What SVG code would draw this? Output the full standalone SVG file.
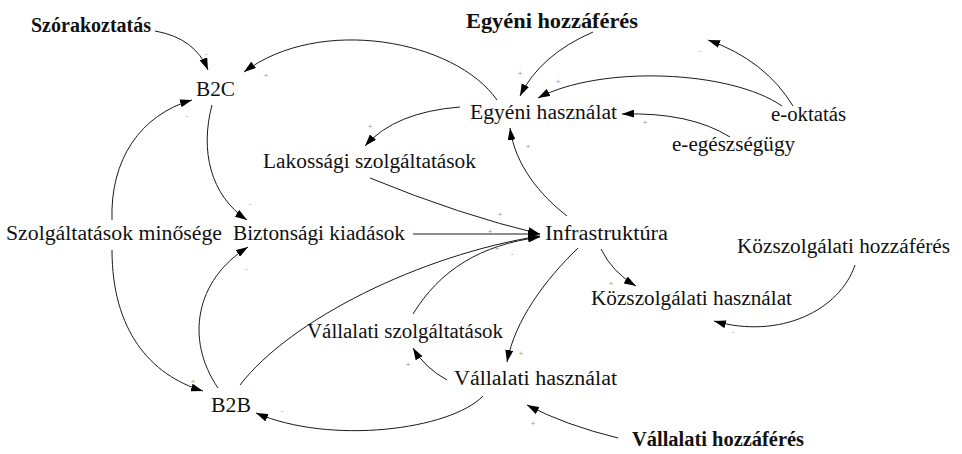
<svg xmlns="http://www.w3.org/2000/svg" width="962" height="454" viewBox="0 0 962 454">
<defs>
<marker id="ah" viewBox="0 0 12 8" refX="12" refY="4" markerWidth="12" markerHeight="8" markerUnits="userSpaceOnUse" orient="auto">
<path d="M0,0 L12,4 L0,8 Z" fill="#000"/>
</marker>
</defs>
<style>
text.t{font-family:'Liberation Serif','Times New Roman',serif;font-size:20px;fill:#111}
text.b{font-weight:bold}
.c{fill:none;stroke:#1a1a1a;stroke-width:1;marker-end:url(#ah)}
text.s{font-family:'Liberation Sans',Arial,sans-serif;font-size:8px;fill:#999;text-anchor:middle}
</style>
<rect width="962" height="454" fill="#fff"/>
<g id="connectors">
<path class="c" d="M155,31 Q195,38 208,70"/>
<path class="c" d="M497,100 C455,40 320,15 244,72"/>
<path class="c" d="M112,220 C110,160 140,115 192,100"/>
<path class="c" d="M112,250 C112,330 150,375 203,391"/>
<path class="c" d="M212,105 C200,150 210,195 247,220"/>
<path class="c" d="M218,388 C185,340 195,280 248,247"/>
<path class="c" d="M413,234 L540,234"/>
<path class="c" d="M370,178 Q460,215 540,234"/>
<path class="c" d="M240,385 C290,320 420,255 540,236"/>
<path class="c" d="M413,314 C440,270 480,245 540,237"/>
<path class="c" d="M567,216 C540,195 515,165 510,128"/>
<path class="c" d="M460,107 Q395,112 365,146"/>
<path class="c" d="M593,32 Q540,55 520,96"/>
<path class="c" d="M782,106 C730,70 600,65 538,98"/>
<path class="c" d="M793,106 Q765,60 708,40"/>
<path class="c" d="M730,137 Q690,112 622,114"/>
<path class="c" d="M601,249 Q612,272 636,286"/>
<path class="c" d="M855,265 C840,310 780,340 714,321"/>
<path class="c" d="M578,248 C545,280 515,320 507,362"/>
<path class="c" d="M447,380 Q425,368 413,348"/>
<path class="c" d="M483,396 C450,430 330,445 256,413"/>
<path class="c" d="M618,438 Q565,425 527,405"/>
</g>
<g id="signs" font-family="Liberation Sans, Arial, sans-serif">
<text class="s" x="206" y="56">-</text>
<text class="s" x="266" y="78">+</text>
<text class="s" x="187" y="118">-</text>
<text class="s" x="193" y="384">+</text>
<text class="s" x="250" y="206">-</text>
<text class="s" x="246" y="271">-</text>
<text class="s" x="490" y="234">+</text>
<text class="s" x="500" y="217">+</text>
<text class="s" x="497" y="251">+</text>
<text class="s" x="512" y="256">-</text>
<text class="s" x="528" y="149">+</text>
<text class="s" x="370" y="129">+</text>
<text class="s" x="520" y="76">+</text>
<text class="s" x="558" y="84">+</text>
<text class="s" x="700" y="53">-</text>
<text class="s" x="645" y="125">+</text>
<text class="s" x="611" y="286">+</text>
<text class="s" x="733" y="334">-</text>
<text class="s" x="521" y="356">+</text>
<text class="s" x="408" y="367">+</text>
<text class="s" x="282" y="413">-</text>
<text class="s" x="533" y="426">+</text>
</g>
<g font-family="Liberation Serif, Times New Roman, serif">
<g id="n-szorakoztatas"><text class="t b" x="31" y="32" textLength="120" lengthAdjust="spacingAndGlyphs">Szórakoztatás</text></g>
<g id="n-b2c"><text class="t" x="196" y="96" textLength="39" lengthAdjust="spacingAndGlyphs">B2C</text></g>
<g id="n-egyeni-hozzaferes"><text class="t b" x="466" y="28" textLength="172" lengthAdjust="spacingAndGlyphs">Egyéni hozzáférés</text></g>
<g id="n-egyeni-hasznalat"><text class="t" x="470" y="119" textLength="147" lengthAdjust="spacingAndGlyphs">Egyéni használat</text></g>
<g id="n-e-oktatas"><text class="t" x="771" y="121" textLength="75" lengthAdjust="spacingAndGlyphs">e-oktatás</text></g>
<g id="n-e-egeszsegugy"><text class="t" x="672" y="151" textLength="123" lengthAdjust="spacingAndGlyphs">e-egészségügy</text></g>
<g id="n-lakossagi"><text class="t" x="263" y="168" textLength="213" lengthAdjust="spacingAndGlyphs">Lakossági szolgáltatások</text></g>
<g id="n-szolg-minosege"><text class="t" x="6" y="240" textLength="216" lengthAdjust="spacingAndGlyphs">Szolgáltatások minősége</text></g>
<g id="n-biztonsagi"><text class="t" x="233" y="240" textLength="172" lengthAdjust="spacingAndGlyphs">Biztonsági kiadások</text></g>
<g id="n-infrastruktura"><text class="t" x="545" y="240" textLength="123" lengthAdjust="spacingAndGlyphs">Infrastruktúra</text></g>
<g id="n-kozszolg-hozzaferes"><text class="t" x="737" y="253" textLength="213" lengthAdjust="spacingAndGlyphs">Közszolgálati hozzáférés</text></g>
<g id="n-kozszolg-hasznalat"><text class="t" x="591" y="305" textLength="201" lengthAdjust="spacingAndGlyphs">Közszolgálati használat</text></g>
<g id="n-vallalati-szolg"><text class="t" x="307" y="338" textLength="196" lengthAdjust="spacingAndGlyphs">Vállalati szolgáltatások</text></g>
<g id="n-vallalati-hasznalat"><text class="t" x="454" y="385" textLength="163" lengthAdjust="spacingAndGlyphs">Vállalati használat</text></g>
<g id="n-b2b"><text class="t" x="211" y="412" textLength="40" lengthAdjust="spacingAndGlyphs">B2B</text></g>
<g id="n-vallalati-hozzaferes"><text class="t b" x="632" y="446" textLength="172" lengthAdjust="spacingAndGlyphs">Vállalati hozzáférés</text></g>
</g>
</svg>
